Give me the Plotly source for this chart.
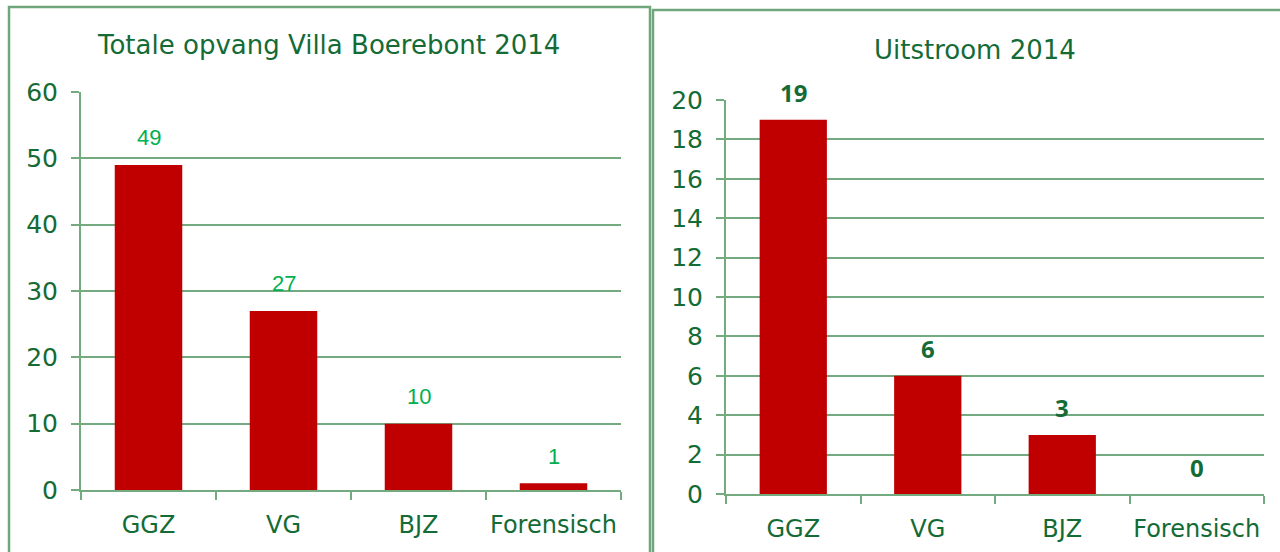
import plotly.graph_objects as go

categories = ["GGZ", "VG", "BJZ", "Forensisch"]
opvang_values = [49, 27, 10, 1]
uitstroom_values = [19, 6, 3, 0]
title_left = "Totale opvang Villa Boerebont 2014"
title_right = "Uitstroom 2014"
left_ticks = [0, 10, 20, 30, 40, 50, 60]
right_ticks = [0, 2, 4, 6, 8, 10, 12, 14, 16, 18, 20]

W, H = 1280, 552
DARK = "#146B36"
GRID = "#74AA80"
BAR = "#C00000"
FONT = "DejaVu Sans"

def px_x(v):
    return v / W

def px_y(v):
    return 1 - v / H

fig = go.Figure()
fig.add_trace(go.Bar(x=categories, y=opvang_values, marker=dict(color=BAR, line=dict(width=0)),
                     width=0.5, xaxis="x", yaxis="y", showlegend=False, hoverinfo="x+y"))
fig.add_trace(go.Bar(x=categories, y=uitstroom_values, marker=dict(color=BAR, line=dict(width=0)),
                     width=0.5, xaxis="x2", yaxis="y2", showlegend=False, hoverinfo="x+y"))

annotations = []
for c, v in zip(categories, opvang_values):
    annotations.append(dict(x=c, y=v, xref="x", yref="y", text=str(v), showarrow=False,
                            yanchor="middle", yshift=27, font=dict(family="Liberation Sans", size=22, color="#00B050")))
for c, v in zip(categories, uitstroom_values):
    annotations.append(dict(x=c, y=v, xref="x2", yref="y2", text="<b>%d</b>" % v, showarrow=False,
                            yanchor="middle", yshift=27, font=dict(family="Open Sans", size=24, color=DARK)))
annotations.append(dict(x=px_x(328), y=px_y(45), xref="paper", yref="paper", text=title_left, showarrow=False,
                        xanchor="center", yanchor="middle", font=dict(family=FONT, size=26, color=DARK)))
annotations.append(dict(x=px_x(975), y=px_y(50), xref="paper", yref="paper", text=title_right, showarrow=False,
                        xanchor="center", yanchor="middle", font=dict(family=FONT, size=26, color=DARK)))

xaxis_common = dict(showline=True, linecolor=GRID, linewidth=2, ticks="outside", ticklen=8, tickcolor=GRID,
                    tickwidth=2, tickson="boundaries", showgrid=False, ticklabelstandoff=12, automargin=False,
                    tickangle=0, tickfont=dict(family=FONT, size=24, color=DARK), fixedrange=True)
yaxis_common = dict(showline=True, linecolor=GRID, linewidth=2, ticks="outside", ticklen=8, tickcolor=GRID,
                    tickwidth=2, showgrid=True, gridcolor=GRID, gridwidth=2, zeroline=False, automargin=False,
                    ticklabelstandoff=8, tickfont=dict(family=FONT, size=25, color=DARK), fixedrange=True)

shapes = [
    dict(type="rect", xref="paper", yref="paper", x0=px_x(9), x1=px_x(650), y0=px_y(600), y1=px_y(7),
         line=dict(color="#6FA67B", width=2.5), fillcolor="rgba(0,0,0,0)"),
    dict(type="rect", xref="paper", yref="paper", x0=px_x(653), x1=px_x(1320), y0=px_y(600), y1=px_y(10),
         line=dict(color="#6FA67B", width=2.5), fillcolor="rgba(0,0,0,0)"),
]

fig.update_layout(
    width=W, height=H, margin=dict(l=0, r=0, t=0, b=0, pad=0),
    paper_bgcolor="white", plot_bgcolor="white",
    xaxis=dict(domain=[px_x(81), px_x(621)], anchor="y", **xaxis_common),
    yaxis=dict(domain=[px_y(490), px_y(92)], anchor="x", range=[0, 60], tickvals=left_ticks, **yaxis_common),
    xaxis2=dict(domain=[px_x(726), px_x(1264)], anchor="y2", **xaxis_common),
    yaxis2=dict(domain=[px_y(494), px_y(100)], anchor="x2", range=[0, 20], tickvals=right_ticks, **yaxis_common),
    annotations=annotations, shapes=shapes, bargap=0.5,
)

fig.write_html("out.html")
